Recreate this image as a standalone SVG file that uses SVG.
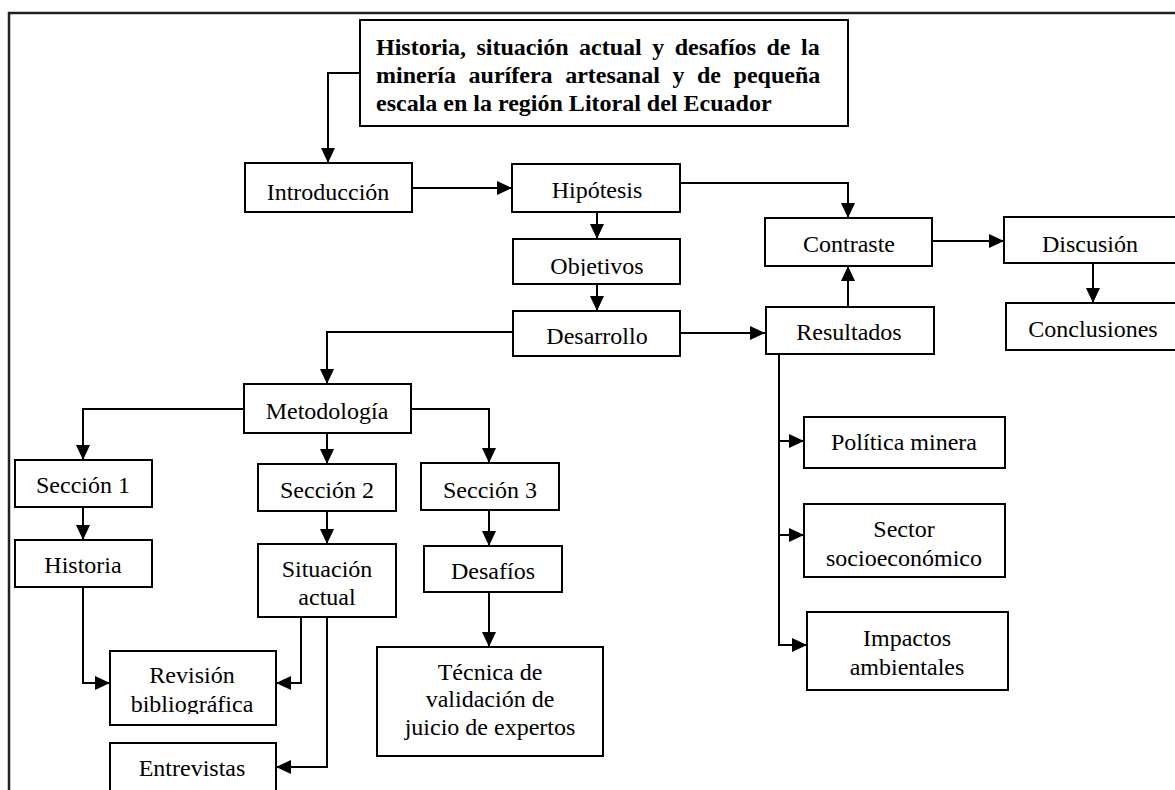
<svg xmlns="http://www.w3.org/2000/svg" width="1175" height="790" viewBox="0 0 1175 790">
<style>
.box{fill:#fff;stroke:#000;stroke-width:2}
.frame{fill:none;stroke:#222;stroke-width:2.5}
.t{font-family:"Liberation Serif","Times New Roman",serif;font-size:24px;fill:#000;text-anchor:middle}
.tb{font-family:"Liberation Serif","Times New Roman",serif;font-size:24px;font-weight:bold;fill:#000}
.c{fill:none;stroke:#000;stroke-width:2}
.ca{fill:none;stroke:#000;stroke-width:2;marker-end:url(#ah)}
</style>
<defs>
<marker id="ah" markerUnits="userSpaceOnUse" markerWidth="16" markerHeight="16" refX="15" refY="7" orient="auto">
<path d="M0,0 L15,7 L0,14 z" fill="#000"/>
</marker>
<clipPath id="clipObj"><rect x="513" y="239" width="167" height="37"/></clipPath>
<clipPath id="clipRev"><rect x="110" y="651" width="166" height="63"/></clipPath>
</defs>
<rect width="1175" height="790" fill="#fff"/>
<rect class="frame" x="9" y="13" width="1200" height="800"/>

<g id="connectors">
<path class="ca" d="M360,73 H328 V163"/>
<path class="ca" d="M412,188 H512"/>
<path class="ca" d="M680,183 H848 V218"/>
<path class="ca" d="M597,212 V239"/>
<path class="ca" d="M597,284 V311"/>
<path class="ca" d="M680,333 H765"/>
<path class="ca" d="M848,307 V266"/>
<path class="ca" d="M932,241 H1004"/>
<path class="ca" d="M1093,263 V303"/>
<path class="ca" d="M513,332 H327 V384"/>
<path class="ca" d="M244,409 H83 V460"/>
<path class="ca" d="M327,433 V464"/>
<path class="ca" d="M411,409 H489 V463"/>
<path class="ca" d="M83,507 V540"/>
<path class="ca" d="M327,511 V544"/>
<path class="ca" d="M489,510 V546"/>
<path class="ca" d="M489,592 V647"/>
<path class="ca" d="M83,587 V683 H110"/>
<path class="ca" d="M301,617 V683 H276"/>
<path class="ca" d="M327,617 V767 H276"/>
<path class="ca" d="M779,354 V645 H807"/>
<path class="ca" d="M779,441 H804"/>
<path class="ca" d="M779,535 H804"/>
</g>

<g id="title">
<rect class="box" x="360" y="20" width="488" height="106"/>
<text class="tb" x="376" y="55" word-spacing="4.5">Historia, situación actual y desafíos de la</text>
<text class="tb" x="376" y="83" word-spacing="6.6">minería aurífera artesanal y de pequeña</text>
<text class="tb" x="376" y="111">escala en la región Litoral del Ecuador</text>
</g>
<g id="introduccion"><rect class="box" x="245" y="163" width="167" height="49"/><text class="t" x="328" y="200">Introducción</text></g>
<g id="hipotesis"><rect class="box" x="512" y="164" width="168" height="48"/><text class="t" x="597" y="198">Hipótesis</text></g>
<g id="objetivos"><rect class="box" x="513" y="239" width="167" height="45"/><text class="t" x="597" y="274" clip-path="url(#clipObj)">Objetivos</text></g>
<g id="desarrollo"><rect class="box" x="513" y="311" width="167" height="45"/><text class="t" x="597" y="344">Desarrollo</text></g>
<g id="contraste"><rect class="box" x="765" y="218" width="167" height="48"/><text class="t" x="849" y="252">Contraste</text></g>
<g id="resultados"><rect class="box" x="766" y="307" width="168" height="47"/><text class="t" x="849" y="340">Resultados</text></g>
<g id="discusion"><rect class="box" x="1004" y="217" width="200" height="46"/><text class="t" x="1090" y="252">Discusión</text></g>
<g id="conclusiones"><rect class="box" x="1006" y="303" width="200" height="47"/><text class="t" x="1093" y="337">Conclusiones</text></g>
<g id="metodologia"><rect class="box" x="244" y="384" width="167" height="49"/><text class="t" x="327" y="419">Metodología</text></g>
<g id="seccion1"><rect class="box" x="15" y="460" width="137" height="47"/><text class="t" x="83" y="493">Sección 1</text></g>
<g id="seccion2"><rect class="box" x="258" y="464" width="138" height="47"/><text class="t" x="327" y="498">Sección 2</text></g>
<g id="seccion3"><rect class="box" x="421" y="463" width="138" height="47"/><text class="t" x="490" y="498">Sección 3</text></g>
<g id="historia"><rect class="box" x="15" y="540" width="137" height="47"/><text class="t" x="83" y="573">Historia</text></g>
<g id="situacion"><rect class="box" x="258" y="544" width="138" height="73"/><text class="t" x="327" y="577">Situación</text><text class="t" x="327" y="605">actual</text></g>
<g id="desafios"><rect class="box" x="424" y="546" width="138" height="46"/><text class="t" x="493" y="579">Desafíos</text></g>
<g id="tecnica"><rect class="box" x="377" y="647" width="226" height="109"/><text class="t" x="490" y="680">Técnica de</text><text class="t" x="490" y="707">validación de</text><text class="t" x="490" y="735">juicio de expertos</text></g>
<g id="revision"><rect class="box" x="110" y="651" width="166" height="74"/><text class="t" x="192" y="683">Revisión</text><text class="t" x="192" y="712" clip-path="url(#clipRev)">bibliográfica</text></g>
<g id="entrevistas"><rect class="box" x="110" y="743" width="166" height="60"/><text class="t" x="192" y="776">Entrevistas</text></g>
<g id="politica"><rect class="box" x="804" y="417" width="201" height="51"/><text class="t" x="904" y="450">Política minera</text></g>
<g id="sector"><rect class="box" x="804" y="504" width="201" height="73"/><text class="t" x="904" y="537">Sector</text><text class="t" x="904" y="566">socioeconómico</text></g>
<g id="impactos"><rect class="box" x="807" y="612" width="201" height="78"/><text class="t" x="907" y="646">Impactos</text><text class="t" x="907" y="675">ambientales</text></g>
</svg>
